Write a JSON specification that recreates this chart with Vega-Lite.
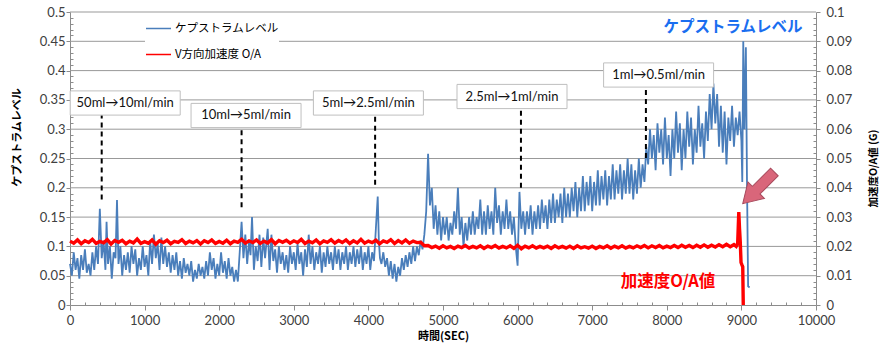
{
"$schema":"https://vega.github.io/schema/vega-lite/v6.json",
"width":746,"height":293,"autosize":"none",
"padding":{"left":70,"top":12,"right":64,"bottom":42},
"background":"white",
"config":{"view":{"stroke":null},"axis":{"labelFont":"Lato","labelFontSize":13,"labelColor":"#404040","domainColor":"#8c8c8c","tickColor":"#8c8c8c","titleFont":"Noto Sans CJK JP","titleFontWeight":"bold","titleFontSize":11,"titleColor":"#000","labelOverlap":false,"labelFlush":false}},
"datasets":{
"grid":[
{"t":0,"t2":10000,"v":0.05},{"t":0,"t2":10000,"v":0.1},{"t":0,"t2":10000,"v":0.15},{"t":0,"t2":10000,"v":0.2},{"t":0,"t2":10000,"v":0.25},{"t":0,"t2":10000,"v":0.3},{"t":0,"t2":10000,"v":0.35},{"t":0,"t2":10000,"v":0.4},{"t":0,"t2":10000,"v":0.45},{"t":0,"t2":10000,"v":0.5}
],
"blue":[
{"t":0,"v":0.07},{"t":25,"v":0.05},{"t":50,"v":0.09},{"t":75,"v":0.06},{"t":100,"v":0.08},{"t":125,"v":0.045},{"t":150,"v":0.085},{"t":175,"v":0.06},{"t":200,"v":0.095},{"t":225,"v":0.055},{"t":250,"v":0.07},{"t":275,"v":0.05},{"t":300,"v":0.09},{"t":325,"v":0.06},{"t":350,"v":0.1},{"t":375,"v":0.07},{"t":400,"v":0.164},{"t":425,"v":0.08},{"t":450,"v":0.11},{"t":475,"v":0.06},{"t":490,"v":0.142},{"t":510,"v":0.07},{"t":535,"v":0.1},{"t":560,"v":0.045},{"t":585,"v":0.09},{"t":610,"v":0.08},{"t":630,"v":0.179},{"t":650,"v":0.07},{"t":675,"v":0.1},{"t":700,"v":0.05},{"t":725,"v":0.085},{"t":750,"v":0.06},{"t":775,"v":0.09},{"t":800,"v":0.055},{"t":825,"v":0.1},{"t":850,"v":0.07},{"t":875,"v":0.095},{"t":900,"v":0.05},{"t":925,"v":0.08},{"t":950,"v":0.06},{"t":975,"v":0.1},{"t":1000,"v":0.065},{"t":1025,"v":0.085},{"t":1050,"v":0.05},{"t":1075,"v":0.11},{"t":1100,"v":0.07},{"t":1125,"v":0.12},{"t":1150,"v":0.08},{"t":1175,"v":0.105},{"t":1200,"v":0.06},{"t":1225,"v":0.115},{"t":1250,"v":0.07},{"t":1275,"v":0.1},{"t":1300,"v":0.065},{"t":1325,"v":0.09},{"t":1350,"v":0.055},{"t":1375,"v":0.085},{"t":1400,"v":0.06},{"t":1425,"v":0.09},{"t":1450,"v":0.05},{"t":1475,"v":0.075},{"t":1500,"v":0.045},{"t":1525,"v":0.08},{"t":1550,"v":0.055},{"t":1575,"v":0.07},{"t":1600,"v":0.05},{"t":1625,"v":0.075},{"t":1650,"v":0.04},{"t":1675,"v":0.06},{"t":1700,"v":0.045},{"t":1725,"v":0.07},{"t":1750,"v":0.05},{"t":1775,"v":0.065},{"t":1800,"v":0.045},{"t":1825,"v":0.075},{"t":1850,"v":0.05},{"t":1875,"v":0.09},{"t":1900,"v":0.06},{"t":1925,"v":0.08},{"t":1950,"v":0.045},{"t":1975,"v":0.07},{"t":2000,"v":0.05},{"t":2025,"v":0.09},{"t":2050,"v":0.055},{"t":2075,"v":0.075},{"t":2100,"v":0.045},{"t":2125,"v":0.08},{"t":2150,"v":0.05},{"t":2175,"v":0.065},{"t":2200,"v":0.04},{"t":2225,"v":0.06},{"t":2250,"v":0.04},
{"t":2275,"v":0.09},{"t":2300,"v":0.142},{"t":2325,"v":0.08},{"t":2350,"v":0.12},{"t":2375,"v":0.07},{"t":2400,"v":0.11},{"t":2420,"v":0.085},{"t":2440,"v":0.15},{"t":2465,"v":0.06},{"t":2490,"v":0.1},{"t":2515,"v":0.075},{"t":2540,"v":0.12},{"t":2565,"v":0.065},{"t":2590,"v":0.115},{"t":2615,"v":0.08},{"t":2650,"v":0.13},{"t":2675,"v":0.06},{"t":2700,"v":0.12},{"t":2725,"v":0.075},{"t":2750,"v":0.095},{"t":2775,"v":0.055},{"t":2800,"v":0.1},{"t":2825,"v":0.07},{"t":2850,"v":0.09},{"t":2875,"v":0.06},{"t":2900,"v":0.085},{"t":2925,"v":0.055},{"t":2950,"v":0.1},{"t":2975,"v":0.07},{"t":3000,"v":0.09},{"t":3025,"v":0.06},{"t":3050,"v":0.105},{"t":3075,"v":0.07},{"t":3100,"v":0.09},{"t":3125,"v":0.05},{"t":3150,"v":0.095},{"t":3175,"v":0.065},{"t":3200,"v":0.12},{"t":3225,"v":0.07},{"t":3250,"v":0.1},{"t":3275,"v":0.06},{"t":3300,"v":0.09},{"t":3325,"v":0.07},{"t":3350,"v":0.1},{"t":3375,"v":0.055},{"t":3400,"v":0.09},{"t":3425,"v":0.065},{"t":3450,"v":0.1},{"t":3475,"v":0.07},{"t":3500,"v":0.09},{"t":3525,"v":0.06},{"t":3550,"v":0.1},{"t":3575,"v":0.07},{"t":3600,"v":0.095},{"t":3625,"v":0.06},{"t":3650,"v":0.09},{"t":3675,"v":0.07},{"t":3700,"v":0.1},{"t":3725,"v":0.06},{"t":3750,"v":0.09},{"t":3775,"v":0.07},{"t":3800,"v":0.1},{"t":3825,"v":0.065},{"t":3850,"v":0.095},{"t":3875,"v":0.07},{"t":3900,"v":0.1},{"t":3925,"v":0.06},{"t":3950,"v":0.09},{"t":3975,"v":0.07},{"t":4000,"v":0.1},{"t":4025,"v":0.06},{"t":4050,"v":0.09},{"t":4075,"v":0.075},{"t":4100,"v":0.13},{"t":4125,"v":0.185},{"t":4140,"v":0.11},{"t":4155,"v":0.08},
{"t":4175,"v":0.07},{"t":4200,"v":0.09},{"t":4225,"v":0.065},{"t":4250,"v":0.08},{"t":4275,"v":0.05},{"t":4300,"v":0.075},{"t":4325,"v":0.045},{"t":4350,"v":0.07},{"t":4375,"v":0.04},{"t":4400,"v":0.065},{"t":4425,"v":0.05},{"t":4450,"v":0.08},{"t":4475,"v":0.06},{"t":4500,"v":0.085},{"t":4525,"v":0.065},{"t":4550,"v":0.09},{"t":4575,"v":0.07},{"t":4600,"v":0.1},{"t":4625,"v":0.075},{"t":4650,"v":0.1},{"t":4675,"v":0.085},{"t":4700,"v":0.11},{"t":4725,"v":0.095},{"t":4750,"v":0.12},
{"t":4775,"v":0.16},{"t":4800,"v":0.258},{"t":4825,"v":0.17},{"t":4850,"v":0.2},{"t":4875,"v":0.13},{"t":4900,"v":0.17},{"t":4925,"v":0.12},{"t":4950,"v":0.16},{"t":4975,"v":0.11},{"t":5000,"v":0.15},{"t":5025,"v":0.12},{"t":5050,"v":0.15},{"t":5075,"v":0.11},{"t":5100,"v":0.14},{"t":5125,"v":0.12},{"t":5150,"v":0.16},{"t":5175,"v":0.13},{"t":5200,"v":0.2},{"t":5225,"v":0.12},{"t":5250,"v":0.15},{"t":5275,"v":0.1},{"t":5300,"v":0.14},{"t":5325,"v":0.11},{"t":5350,"v":0.15},{"t":5375,"v":0.12},{"t":5400,"v":0.16},{"t":5425,"v":0.12},{"t":5450,"v":0.15},{"t":5475,"v":0.13},{"t":5500,"v":0.18},{"t":5525,"v":0.12},{"t":5550,"v":0.16},{"t":5575,"v":0.12},{"t":5600,"v":0.17},{"t":5625,"v":0.13},{"t":5650,"v":0.16},{"t":5675,"v":0.12},{"t":5700,"v":0.2},{"t":5725,"v":0.14},{"t":5750,"v":0.17},{"t":5775,"v":0.12},{"t":5800,"v":0.16},{"t":5825,"v":0.13},{"t":5850,"v":0.18},{"t":5875,"v":0.13},{"t":5900,"v":0.16},{"t":5925,"v":0.12},{"t":5950,"v":0.15},{"t":5975,"v":0.1},{"t":6000,"v":0.067},{"t":6025,"v":0.193},{"t":6050,"v":0.13},{"t":6075,"v":0.16},
{"t":6100,"v":0.12},{"t":6125,"v":0.16},{"t":6150,"v":0.13},{"t":6175,"v":0.17},{"t":6200,"v":0.12},{"t":6225,"v":0.16},{"t":6250,"v":0.13},{"t":6275,"v":0.17},{"t":6300,"v":0.13},{"t":6325,"v":0.18},{"t":6350,"v":0.14},{"t":6375,"v":0.17},{"t":6400,"v":0.13},{"t":6425,"v":0.18},{"t":6450,"v":0.14},{"t":6475,"v":0.19},{"t":6500,"v":0.14},{"t":6525,"v":0.18},{"t":6550,"v":0.15},{"t":6575,"v":0.19},{"t":6600,"v":0.14},{"t":6625,"v":0.2},{"t":6650,"v":0.15},{"t":6675,"v":0.19},{"t":6700,"v":0.15},{"t":6725,"v":0.2},{"t":6750,"v":0.16},{"t":6775,"v":0.21},{"t":6800,"v":0.15},{"t":6825,"v":0.2},{"t":6850,"v":0.16},{"t":6875,"v":0.22},{"t":6900,"v":0.16},{"t":6925,"v":0.21},{"t":6950,"v":0.17},{"t":6975,"v":0.22},{"t":7000,"v":0.16},{"t":7025,"v":0.21},{"t":7050,"v":0.17},{"t":7075,"v":0.23},{"t":7100,"v":0.17},{"t":7125,"v":0.22},{"t":7150,"v":0.18},{"t":7175,"v":0.23},{"t":7200,"v":0.17},{"t":7225,"v":0.22},{"t":7250,"v":0.18},{"t":7275,"v":0.24},{"t":7300,"v":0.18},{"t":7325,"v":0.23},{"t":7350,"v":0.19},{"t":7375,"v":0.24},{"t":7400,"v":0.18},{"t":7425,"v":0.23},{"t":7450,"v":0.19},{"t":7475,"v":0.25},{"t":7500,"v":0.19},{"t":7525,"v":0.24},{"t":7550,"v":0.18},{"t":7575,"v":0.23},{"t":7600,"v":0.19},{"t":7625,"v":0.25},{"t":7650,"v":0.2},{"t":7675,"v":0.24},{"t":7700,"v":0.21},
{"t":7725,"v":0.27},{"t":7750,"v":0.24},{"t":7775,"v":0.3},{"t":7800,"v":0.25},{"t":7825,"v":0.29},{"t":7850,"v":0.23},{"t":7875,"v":0.31},{"t":7900,"v":0.26},{"t":7925,"v":0.3},{"t":7950,"v":0.24},{"t":7975,"v":0.32},{"t":8000,"v":0.25},{"t":8025,"v":0.29},{"t":8050,"v":0.22},{"t":8075,"v":0.3},{"t":8100,"v":0.25},{"t":8125,"v":0.33},{"t":8150,"v":0.26},{"t":8175,"v":0.31},{"t":8200,"v":0.23},{"t":8225,"v":0.3},{"t":8250,"v":0.25},{"t":8275,"v":0.33},{"t":8300,"v":0.27},{"t":8325,"v":0.32},{"t":8350,"v":0.24},{"t":8375,"v":0.3},{"t":8400,"v":0.26},{"t":8425,"v":0.34},{"t":8450,"v":0.27},{"t":8475,"v":0.31},{"t":8500,"v":0.25},{"t":8525,"v":0.33},{"t":8550,"v":0.28},{"t":8575,"v":0.36},{"t":8600,"v":0.3},{"t":8625,"v":0.378},{"t":8650,"v":0.31},{"t":8675,"v":0.36},{"t":8700,"v":0.27},{"t":8725,"v":0.34},{"t":8750,"v":0.26},{"t":8775,"v":0.33},{"t":8800,"v":0.24},{"t":8825,"v":0.32},{"t":8850,"v":0.28},{"t":8875,"v":0.34},{"t":8900,"v":0.27},{"t":8925,"v":0.32},{"t":8950,"v":0.29},{"t":8975,"v":0.33},{"t":9000,"v":0.28},{"t":9012,"v":0.21},{"t":9025,"v":0.45},{"t":9040,"v":0.3},{"t":9060,"v":0.44},{"t":9075,"v":0.21},{"t":9090,"v":0.032},{"t":9110,"v":0.03}
],
"red":[
{"t":0,"v":0.0218},{"t":50,"v":0.0211},{"t":100,"v":0.0222},{"t":150,"v":0.0209},{"t":200,"v":0.0219},{"t":250,"v":0.0213},{"t":300,"v":0.0224},{"t":350,"v":0.021},{"t":400,"v":0.0217},{"t":450,"v":0.0212},{"t":500,"v":0.0223},{"t":550,"v":0.0208},{"t":600,"v":0.022},{"t":650,"v":0.0214},{"t":700,"v":0.0221},{"t":750,"v":0.0209},{"t":800,"v":0.0218},{"t":850,"v":0.0212},{"t":900,"v":0.0225},{"t":950,"v":0.021},{"t":1000,"v":0.0216},{"t":1050,"v":0.0211},{"t":1100,"v":0.0222},{"t":1150,"v":0.0207},{"t":1200,"v":0.0219},{"t":1250,"v":0.0213},{"t":1300,"v":0.0221},{"t":1350,"v":0.0209},{"t":1400,"v":0.0217},{"t":1450,"v":0.0214},{"t":1500,"v":0.0223},{"t":1550,"v":0.021},{"t":1600,"v":0.0218},{"t":1650,"v":0.0212},{"t":1700,"v":0.022},{"t":1750,"v":0.0208},{"t":1800,"v":0.0219},{"t":1850,"v":0.0213},{"t":1900,"v":0.0222},{"t":1950,"v":0.021},{"t":2000,"v":0.0217},{"t":2050,"v":0.0211},{"t":2100,"v":0.0221},{"t":2150,"v":0.0209},{"t":2200,"v":0.0218},{"t":2250,"v":0.0214},{"t":2300,"v":0.0224},{"t":2350,"v":0.0211},{"t":2400,"v":0.0219},{"t":2450,"v":0.0213},{"t":2500,"v":0.0222},{"t":2550,"v":0.021},{"t":2600,"v":0.0218},{"t":2650,"v":0.0212},{"t":2700,"v":0.0223},{"t":2750,"v":0.0209},{"t":2800,"v":0.022},{"t":2850,"v":0.0214},{"t":2900,"v":0.0221},{"t":2950,"v":0.0211},{"t":3000,"v":0.0219},{"t":3050,"v":0.0213},{"t":3100,"v":0.0224},{"t":3150,"v":0.021},{"t":3200,"v":0.0218},{"t":3250,"v":0.0212},{"t":3300,"v":0.0222},{"t":3350,"v":0.0209},{"t":3400,"v":0.0219},{"t":3450,"v":0.0214},{"t":3500,"v":0.0223},{"t":3550,"v":0.0211},{"t":3600,"v":0.022},{"t":3650,"v":0.0213},{"t":3700,"v":0.0222},{"t":3750,"v":0.021},{"t":3800,"v":0.0219},{"t":3850,"v":0.0212},{"t":3900,"v":0.0224},{"t":3950,"v":0.0211},{"t":4000,"v":0.0218},{"t":4050,"v":0.0213},{"t":4100,"v":0.0221},{"t":4150,"v":0.0209},{"t":4200,"v":0.0219},{"t":4250,"v":0.0214},{"t":4300,"v":0.0223},{"t":4350,"v":0.021},{"t":4400,"v":0.022},{"t":4450,"v":0.0212},{"t":4500,"v":0.0222},{"t":4550,"v":0.0211},{"t":4600,"v":0.0218},{"t":4650,"v":0.0213},{"t":4700,"v":0.0214},{"t":4750,"v":0.0202},
{"t":4800,"v":0.0203},{"t":4850,"v":0.0196},{"t":4900,"v":0.0201},{"t":4950,"v":0.0194},{"t":5000,"v":0.0202},{"t":5050,"v":0.0195},{"t":5100,"v":0.02},{"t":5150,"v":0.0193},{"t":5200,"v":0.0201},{"t":5250,"v":0.0196},{"t":5300,"v":0.0203},{"t":5350,"v":0.0194},{"t":5400,"v":0.02},{"t":5450,"v":0.0195},{"t":5500,"v":0.0202},{"t":5550,"v":0.0193},{"t":5600,"v":0.0201},{"t":5650,"v":0.0196},{"t":5700,"v":0.0203},{"t":5750,"v":0.0194},{"t":5800,"v":0.02},{"t":5850,"v":0.0195},{"t":5900,"v":0.0202},{"t":5950,"v":0.0193},{"t":6000,"v":0.0204},{"t":6050,"v":0.0192},{"t":6100,"v":0.0201},{"t":6150,"v":0.0195},{"t":6200,"v":0.0202},{"t":6250,"v":0.0194},{"t":6300,"v":0.02},{"t":6350,"v":0.0195},{"t":6400,"v":0.0201},{"t":6450,"v":0.0193},{"t":6500,"v":0.0202},{"t":6550,"v":0.0195},{"t":6600,"v":0.02},{"t":6650,"v":0.0194},{"t":6700,"v":0.0201},{"t":6750,"v":0.0193},{"t":6800,"v":0.0202},{"t":6850,"v":0.0195},{"t":6900,"v":0.0199},{"t":6950,"v":0.0194},{"t":7000,"v":0.0201},{"t":7050,"v":0.0193},{"t":7100,"v":0.02},{"t":7150,"v":0.0195},{"t":7200,"v":0.0202},{"t":7250,"v":0.0194},{"t":7300,"v":0.0201},{"t":7350,"v":0.0195},{"t":7400,"v":0.0202},{"t":7450,"v":0.0194},{"t":7500,"v":0.02},{"t":7550,"v":0.0195},{"t":7600,"v":0.0202},{"t":7650,"v":0.0196},{"t":7700,"v":0.0203},{"t":7750,"v":0.0195},{"t":7800,"v":0.0202},{"t":7850,"v":0.0196},{"t":7900,"v":0.0203},{"t":7950,"v":0.0195},{"t":8000,"v":0.0201},{"t":8050,"v":0.0196},{"t":8100,"v":0.0203},{"t":8150,"v":0.0196},{"t":8200,"v":0.0204},{"t":8250,"v":0.0197},{"t":8300,"v":0.0203},{"t":8350,"v":0.0196},{"t":8400,"v":0.0204},{"t":8450,"v":0.0197},{"t":8500,"v":0.0205},{"t":8550,"v":0.0197},{"t":8600,"v":0.0204},{"t":8650,"v":0.0198},{"t":8700,"v":0.0206},{"t":8750,"v":0.0199},{"t":8800,"v":0.0207},{"t":8850,"v":0.0199},{"t":8900,"v":0.0206},{"t":8930,"v":0.02},{"t":8950,"v":0.021},{"t":8965,"v":0.0317},{"t":8975,"v":0.026},{"t":8985,"v":0.0215},{"t":8995,"v":0.0145},{"t":9010,"v":0.0135},{"t":9018,"v":0.013},{"t":9025,"v":0}
],
"labels":[
{"t":740,"v":0.3447,"label":"50ml→10ml/min"},
{"t":2360,"v":0.3234,"label":"10ml→5ml/min"},
{"t":4000,"v":0.3447,"label":"5ml→2.5ml/min"},
{"t":5925,"v":0.3558,"label":"2.5ml→1ml/min"},
{"t":7890,"v":0.3925,"label":"1ml→0.5ml/min"}
],
"rules":[
{"t":425,"v":0.18,"v2":0.324},
{"t":2300,"v":0.167,"v2":0.302},
{"t":4090,"v":0.205,"v2":0.324},
{"t":6045,"v":0.2,"v2":0.333},
{"t":7720,"v":0.251,"v2":0.372}
]
},
"encoding":{
"x":{"field":"t","type":"quantitative","scale":{"domain":[0,10000],"nice":false},
"axis":{"title":"時間(SEC)","values":[0,200,400,600,800,1000,1200,1400,1600,1800,2000,2200,2400,2600,2800,3000,3200,3400,3600,3800,4000,4200,4400,4600,4800,5000,5200,5400,5600,5800,6000,6200,6400,6600,6800,7000,7200,7400,7600,7800,8000,8200,8400,8600,8800,9000,9200,9400,9600,9800,10000],
"labelExpr":"datum.value % 1000 == 0 ? format(datum.value,'d') : ''",
"tickSize":{"condition":{"test":"datum.value % 1000 == 0","value":5},"value":-3},
"grid":false,"labelPadding":4,"titlePadding":3}}
},
"layer":[
{"encoding":{
"y":{"field":"v","type":"quantitative","scale":{"domain":[0,0.5],"nice":false},
"axis":{"title":"ケプストラムレベル","values":[0,0.01,0.02,0.03,0.04,0.05,0.06,0.07,0.08,0.09,0.1,0.11,0.12,0.13,0.14,0.15,0.16,0.17,0.18,0.19,0.2,0.21,0.22,0.23,0.24,0.25,0.26,0.27,0.28,0.29,0.3,0.31,0.32,0.33,0.34,0.35,0.36,0.37,0.38,0.39,0.4,0.41,0.42,0.43,0.44,0.45,0.46,0.47,0.48,0.49,0.5],
"labelExpr":"round(datum.value*100) % 5 == 0 ? format(datum.value,'~g') : ''",
"tickSize":{"condition":{"test":"round(datum.value*100) % 5 == 0","value":4},"value":-3},
"grid":false,
"labelPadding":1,"titleX":-53,"titleY":125,"titleAlign":"center","titleBaseline":"middle","titleAngle":-90}}},
"layer":[
{"data":{"name":"grid"},"mark":{"type":"rule","color":"#999999","strokeWidth":1},
"encoding":{"x2":{"field":"t2"}}},
{"data":{"name":"blue"},"mark":{"type":"line","strokeWidth":1.8},
"encoding":{
"color":{"datum":"ケプストラムレベル","type":"nominal","scale":{"domain":["ケプストラムレベル","V方向加速度 O/A"],"range":["#4a7ebb","#ff0000"]},
"legend":{"orient":"none","legendX":75,"legendY":3,"title":null,"symbolType":"stroke","symbolSize":625,"symbolStrokeWidth":1.5,"labelFont":"Noto Sans CJK JP","labelFontSize":11.5,"labelColor":"#000","rowPadding":7,"labelOffset":3,"padding":0,"fillColor":"white"}}
}},
{"data":{"name":"rules"},"mark":{"type":"rule","strokeDash":[5,4],"strokeWidth":2,"color":"#000"},
"encoding":{"y2":{"field":"v2"}}},
{"data":{"name":"labels"},"mark":{"type":"point","shape":"M-1,-0.22H1V0.22H-1Z","size":12100,"filled":true,"fill":"white","stroke":"#bfbfbf","strokeWidth":1,"opacity":1,"fillOpacity":1}},
{"data":{"name":"labels"},"mark":{"type":"text","font":"Lato","fontSize":13,"color":"#111"},
"encoding":{"text":{"field":"label"}}},
{"data":{"values":[{"t":8888,"v":0.474,"label":"ケプストラムレベル"}]},"mark":{"type":"text","font":"Noto Sans CJK JP","fontWeight":"bold","fontSize":15.5,"color":"#1a6ef0"},
"encoding":{"text":{"field":"label"}}},
{"data":{"values":[{"t":8016,"v":0.0384,"label":"加速度O/A値"}]},"mark":{"type":"text","font":"Noto Sans CJK JP","fontWeight":"bold","fontSize":16.5,"color":"#ff0000"},
"encoding":{"text":{"field":"label"}}},
{"data":{"values":[{"t":9230,"v":0.2}]},"mark":{"type":"point","shape":"M-1,-0.24L0.15,-0.24L0.15,-0.52L1,0L0.15,0.52L0.15,0.24L-1,0.24Z","size":2000,"angle":135,"filled":true,"fill":"#d9667a","stroke":"#a84a5c","strokeWidth":1,"opacity":1}}
]},
{"data":{"name":"red"},"mark":{"type":"line","strokeWidth":3.4},
"encoding":{
"y":{"field":"v","type":"quantitative","scale":{"domain":[0,0.1],"nice":false},
"axis":{"orient":"right","title":"加速度O/A値 (G)","values":[0,0.002,0.004,0.006,0.008,0.01,0.012,0.014,0.016,0.018,0.02,0.022,0.024,0.026,0.028,0.03,0.032,0.034,0.036,0.038,0.04,0.042,0.044,0.046,0.048,0.05,0.052,0.054,0.056,0.058,0.06,0.062,0.064,0.066,0.068,0.07,0.072,0.074,0.076,0.078,0.08,0.082,0.084,0.086,0.088,0.09,0.092,0.094,0.096,0.098,0.1],
"labelExpr":"round(datum.value*1000) % 10 == 0 ? format(datum.value,'~g') : ''",
"tickSize":{"condition":{"test":"round(datum.value*1000) % 10 == 0","value":4},"value":-3},
"grid":false,"labelPadding":6,"titleX":57,"titleY":156,"titleAlign":"center","titleBaseline":"middle","titleAngle":-90,"titleFontSize":10.5}},
"color":{"datum":"V方向加速度 O/A","type":"nominal"}
}}
],
"resolve":{"scale":{"y":"independent"}}
}
